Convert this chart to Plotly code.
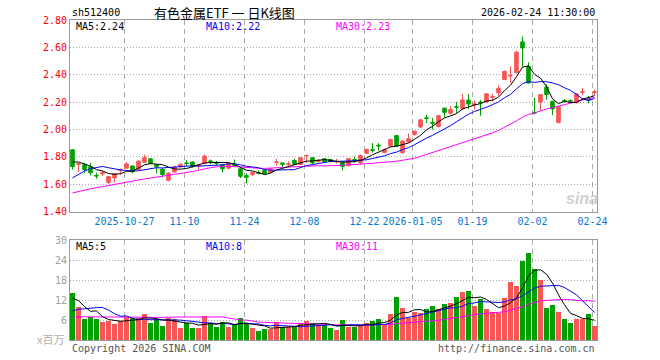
import math
import pandas as pd
import plotly.graph_objects as go

# ---------------- data ----------------
holidays = ["2026-01-01", "2026-01-02", "2026-02-16", "2026-02-17", "2026-02-18",
            "2026-02-19", "2026-02-20", "2026-02-23"]
dates = pd.bdate_range("2025-10-14", "2026-02-24", freq="C",
                       holidays=holidays).strftime("%Y-%m-%d").tolist()

tick_dates = ["2025-10-27", "2025-11-10", "2025-11-24", "2025-12-08", "2025-12-22",
              "2026-01-05", "2026-01-19", "2026-02-02", "2026-02-24"]
tick_labels = ["2025-10-27", "11-10", "11-24", "12-08", "12-22",
               "2026-01-05", "01-19", "02-02", "02-24"]

open_ = [1.851, 1.745, 1.742, 1.727, 1.665, 1.675, 1.612, 1.645, 1.700, 1.717,
         1.733, 1.705, 1.760, 1.785, 1.742, 1.710, 1.628, 1.688, 1.727, 1.755,
         1.762, 1.735, 1.750, 1.770, 1.757, 1.742, 1.717, 1.742, 1.712, 1.662,
         1.670, 1.685, 1.700, 1.685, 1.758, 1.755, 1.743, 1.773, 1.744, 1.808,
         1.793, 1.765, 1.785, 1.780, 1.762, 1.755, 1.735, 1.780, 1.757, 1.826,
         1.852, 1.885, 1.832, 1.878, 1.955, 1.830, 1.908, 1.963, 2.018, 2.085,
         2.050, 2.022, 2.155, 2.118, 2.168, 2.152, 2.215, 2.180, 2.200, 2.200,
         2.235, 2.268, 2.365, 2.390, 2.415, 2.640, 2.460, 2.125, 2.200, 2.310,
         2.205, 2.050, 2.212, 2.210, 2.195, 2.270, 2.222, 2.270]
high = [1.855, 1.755, 1.756, 1.756, 1.683, 1.695, 1.660, 1.680, 1.715, 1.762,
        1.735, 1.775, 1.815, 1.790, 1.745, 1.715, 1.685, 1.735, 1.750, 1.775,
        1.768, 1.745, 1.817, 1.780, 1.770, 1.745, 1.758, 1.780, 1.715, 1.680,
        1.690, 1.700, 1.705, 1.718, 1.785, 1.757, 1.765, 1.787, 1.795, 1.812,
        1.795, 1.780, 1.790, 1.785, 1.785, 1.760, 1.790, 1.800, 1.815, 1.860,
        1.900, 1.900, 1.860, 1.930, 1.958, 1.920, 1.970, 1.990, 2.075, 2.107,
        2.083, 2.105, 2.160, 2.170, 2.200, 2.260, 2.260, 2.210, 2.215, 2.265,
        2.260, 2.320, 2.430, 2.460, 2.575, 2.680, 2.490, 2.230, 2.258, 2.330,
        2.210, 2.170, 2.222, 2.220, 2.265, 2.305, 2.245, 2.290]
low = [1.705, 1.690, 1.683, 1.663, 1.639, 1.660, 1.600, 1.612, 1.670, 1.715,
       1.680, 1.700, 1.755, 1.745, 1.680, 1.650, 1.620, 1.685, 1.720, 1.730,
       1.720, 1.705, 1.745, 1.745, 1.740, 1.685, 1.710, 1.730, 1.645, 1.605,
       1.660, 1.670, 1.670, 1.680, 1.735, 1.725, 1.720, 1.740, 1.740, 1.755,
       1.745, 1.760, 1.758, 1.760, 1.750, 1.700, 1.730, 1.755, 1.745, 1.820,
       1.830, 1.845, 1.825, 1.875, 1.875, 1.820, 1.905, 1.955, 2.010, 2.046,
       2.000, 2.015, 2.085, 2.110, 2.120, 2.145, 2.150, 2.145, 2.100, 2.195,
       2.205, 2.245, 2.360, 2.340, 2.410, 2.460, 2.335, 2.110, 2.140, 2.218,
       2.105, 2.045, 2.195, 2.200, 2.190, 2.250, 2.190, 2.248]
close = [1.729, 1.750, 1.707, 1.683, 1.660, 1.685, 1.655, 1.676, 1.705, 1.748,
         1.690, 1.768, 1.793, 1.752, 1.728, 1.670, 1.680, 1.725, 1.746, 1.752,
         1.730, 1.740, 1.805, 1.766, 1.753, 1.712, 1.752, 1.738, 1.657, 1.650,
         1.685, 1.680, 1.678, 1.712, 1.762, 1.745, 1.748, 1.745, 1.793, 1.810,
         1.756, 1.775, 1.763, 1.765, 1.766, 1.730, 1.787, 1.776, 1.810, 1.853,
         1.848, 1.880, 1.852, 1.927, 1.878, 1.915, 1.932, 1.987, 2.070, 2.080,
         2.045, 2.100, 2.125, 2.145, 2.163, 2.215, 2.185, 2.186, 2.195, 2.260,
         2.240, 2.300, 2.425, 2.395, 2.565, 2.595, 2.340, 2.120, 2.255, 2.255,
         2.150, 2.165, 2.207, 2.206, 2.260, 2.275, 2.216, 2.275]
# volume, millions of shares
volume = [14.2, 10.0, 6.4, 6.8, 6.2, 5.5, 5.8, 4.9, 5.8, 6.8,
          6.5, 6.5, 7.8, 5.2, 6.2, 4.2, 6.5, 6.2, 3.7, 5.0,
          3.7, 3.7, 7.2, 5.0, 4.0, 5.5, 4.0, 4.5, 6.7, 4.8,
          3.7, 2.8, 3.2, 3.2, 5.5, 3.8, 3.8, 3.8, 5.2, 5.8,
          5.0, 4.5, 4.5, 3.7, 3.0, 6.0, 4.0, 4.0, 4.2, 5.2,
          5.8, 6.2, 4.7, 7.8, 12.9, 9.6, 6.5, 8.5, 8.2, 9.3,
          10.2, 9.3, 10.8, 11.2, 12.9, 14.4, 14.7, 10.2, 12.3, 9.3,
          8.5, 8.2, 12.6, 17.4, 16.2, 23.7, 26.1, 21.3, 18.0, 9.6,
          10.5, 8.4, 6.3, 5.1, 6.3, 6.3, 7.8, 4.2]

# sessions before the visible window (only feed the moving averages)
prior_close = [1.40, 1.42, 1.41, 1.43, 1.42, 1.44, 1.43, 1.41,
               1.48, 1.51, 1.54, 1.56, 1.55, 1.57, 1.54,
               1.50, 1.52, 1.49, 1.51, 1.48,
               1.47, 1.49, 1.51, 1.56, 1.62, 1.75, 1.78, 1.76, 1.79]
prior_volume = [6.0, 5.5, 7.2, 6.8, 5.9, 6.5, 7.4, 6.1, 5.8, 6.6, 7.0, 5.6, 6.2, 6.9, 5.5,
                4.5, 4.0, 4.8, 4.2, 4.5,
                4.6, 5.2, 4.4, 5.0, 5.2, 13.5, 15.4, 13.8, 5.7]

# ---------------- helpers ----------------
RED = "#f65656"
GREEN = "#00a000"
BLUE_TXT = "#0a78d2"
MONO = "DejaVu Sans Mono"
L, R, T, B = 70, 63, 20, 20
W, H = 660, 360
PW, PH = W - L - R, H - T - B

def px(xp):
    return (xp - L) / PW

def py(yp):
    return (H - B - yp) / PH

def sma(prior, vals, n):
    allv = prior + vals
    k0 = len(prior)
    return [sum(allv[k - n + 1:k + 1]) / n for k in range(k0, len(allv))]

def trunc(v, d):
    f = 10 ** d
    return math.floor(v * f + 1e-6) / f

idx = list(range(len(dates)))
ma5 = sma(prior_close, close, 5)
ma10 = sma(prior_close, close, 10)
ma30 = sma(prior_close, close, 30)
vma5 = sma(prior_volume, volume, 5)
vma10 = sma(prior_volume, volume, 10)
vma30 = sma(prior_volume, volume, 30)
bar_colors = [RED if c >= o else GREEN for o, c in zip(open_, close)]

tick_pos = [dates.index(d) - 0.333 for d in tick_dates]

fig = go.Figure()
fig.add_trace(go.Candlestick(
    x=idx, open=open_, high=high, low=low, close=close,
    increasing=dict(line=dict(color=RED, width=1), fillcolor=RED),
    decreasing=dict(line=dict(color=GREEN, width=1), fillcolor=GREEN),
    whiskerwidth=0, hoverinfo="skip", xaxis="x", yaxis="y", showlegend=False))
for ys, col in ((ma30, "#ff00ff"), (ma10, "#0000ff"), (ma5, "#000000")):
    fig.add_trace(go.Scatter(x=idx, y=ys, mode="lines", line=dict(color=col, width=1),
                             hoverinfo="skip", xaxis="x", yaxis="y", showlegend=False))
fig.add_trace(go.Bar(x=idx, y=volume, marker=dict(color=bar_colors, line=dict(width=0)),
                     width=0.82, hoverinfo="skip", xaxis="x2", yaxis="y2", showlegend=False))
for ys, col in ((vma30, "#ff00ff"), (vma10, "#0000ff"), (vma5, "#000000")):
    fig.add_trace(go.Scatter(x=idx, y=ys, mode="lines", line=dict(color=col, width=1),
                             hoverinfo="skip", xaxis="x2", yaxis="y2", showlegend=False))

xr = [-2.5 / 6, len(idx) - 1 + 2.5 / 6]
common_x = dict(range=xr, tickvals=tick_pos, showgrid=True, gridcolor="#aaaaaa",
                griddash="5px,4px", gridwidth=1, showline=True, linecolor="#999999",
                linewidth=1, mirror=True, ticks="", zeroline=False, fixedrange=True)
price_ticks = [1.40 + 0.2 * k for k in range(8)]
vol_ticks = [6, 12, 18, 24, 30]

fig.update_layout(
    width=W, height=H, margin=dict(l=L, r=R, t=T, b=B),
    paper_bgcolor="white", plot_bgcolor="white", boxgap=0.15, bargap=0,
    xaxis=dict(common_x, anchor="y", ticktext=tick_labels,
               tickfont=dict(family=MONO, size=10, color=BLUE_TXT),
               rangeslider=dict(visible=False)),
    xaxis2=dict(common_x, anchor="y2", matches="x", showticklabels=False),
    yaxis=dict(domain=[py(211.5), 1], range=[1.40, 2.80], tickvals=price_ticks,
               ticktext=[f"{v:.2f}" for v in price_ticks],
               tickfont=dict(family=MONO, size=10, color="#ff0000"),
               showgrid=True, gridcolor="#aaaaaa", griddash="1px,2px", showline=True,
               linecolor="#999999", mirror=True, ticks="", zeroline=False, fixedrange=True),
    yaxis2=dict(domain=[0, py(240)], range=[0, 30], tickvals=vol_ticks,
                ticktext=[str(v) for v in vol_ticks],
                tickfont=dict(family=MONO, size=10, color="#a0a0a0"),
                showgrid=True, gridcolor="#aaaaaa", griddash="1px,2px", showline=True,
                linecolor="#999999", mirror=True, ticks="", zeroline=False, fixedrange=True),
)

def txt(x, y, s, color="#000000", size=10, family=MONO, xanchor="left", **kw):
    fig.add_annotation(x=px(x), y=py(y), xref="paper", yref="paper", text=s,
                       showarrow=False, xanchor=xanchor, yanchor="middle",
                       font=dict(family=family, size=size, color=color), **kw)

txt(70, 13, "sh512400", size=10)
txt(224, 13, "有色金属ETF 一 日K线图", size=13, family="Noto Sans CJK SC", xanchor="center")
txt(597, 13, "2026-02-24 11:30:00", size=10, xanchor="right")

txt(74, 26, f"MA5:{trunc(ma5[-1], 2):.2f}")
txt(204, 26, f"MA10:{trunc(ma10[-1], 2):.2f}", color="#0000ff")
txt(334, 26, f"MA30:{trunc(ma30[-1], 2):.2f}", color="#ff00ff")

txt(74, 246, f"MA5:{int(trunc(vma5[-1], 0))}")
txt(204, 246, f"MA10:{int(trunc(vma10[-1], 0))}", color="#0000ff")
txt(334, 246, f"MA30:{int(trunc(vma30[-1], 0))}", color="#ff00ff")

txt(66, 339, "x百万", color="#b0b0b0", size=11, family="Noto Sans CJK SC", xanchor="right")
txt(70, 348, "Copyright 2026 SINA.COM", color="#555555")
txt(597, 348, "http://finance.sina.com.cn", color="#555555", xanchor="right")
txt(582, 198, "<i><b>sina</b></i>", color="#cfcfcf", size=16, family="Liberation Sans",
    xanchor="center")

fig.write_html("out.html",
               config={"displayModeBar": False, "staticPlot": True},
               post_script="document.body.style.margin='0px';"
                           "document.body.style.overflow='hidden';")
